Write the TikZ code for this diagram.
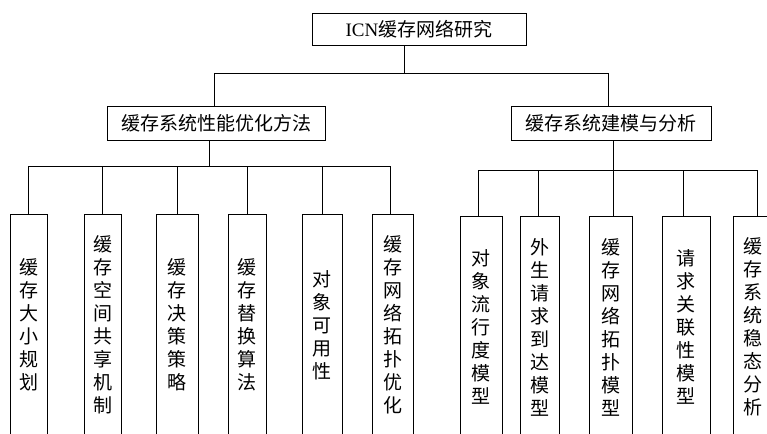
\documentclass[tikz,border=0pt]{standalone}
\usepackage{fontspec}
\setmainfont{Liberation Serif}
\newfontfamily\cjk{Noto Sans CJK SC}
\begin{document}
\begin{tikzpicture}[x=1pt,y=-1pt,line width=0.9pt,
  hbox/.style={draw,inner sep=0pt,minimum height=34pt,font=\cjk\fontsize{19}{23}\selectfont},
  vbox/.style={draw,inner sep=0pt,minimum height=222pt,align=center,font=\cjk\fontsize{19}{23}\selectfont}]
\clip (0,0) rectangle (767,433);
\fill[white] (0,0) rectangle (767,433);
% top level
\node[hbox,minimum width=214pt,minimum height=32pt] (root) at (419,29) {{\rmfamily ICN}缓存网络研究};
\node[hbox,minimum width=218pt] (a) at (216,123) {缓存系统性能优化方法};
\node[hbox,minimum width=200pt] (b) at (611,123) {缓存系统建模与分析};
% leaves, left group
\node[vbox,minimum width=37pt] (a1) at (28.5,325) {缓\\存\\大\\小\\规\\划};
\node[vbox,minimum width=37pt] (a2) at (102.5,325) {缓\\存\\空\\间\\共\\享\\机\\制};
\node[vbox,minimum width=42pt] (a3) at (177,325) {缓\\存\\决\\策\\策\\略};
\node[vbox,minimum width=38pt] (a4) at (247,325) {缓\\存\\替\\换\\算\\法};
\node[vbox,minimum width=40pt] (a5) at (322,325) {对\\象\\可\\用\\性};
\node[vbox,minimum width=41pt] (a6) at (392.5,325) {缓\\存\\网\\络\\拓\\扑\\优\\化};
% leaves, right group
\node[vbox,minimum width=42pt] (b1) at (481,327) {对\\象\\流\\行\\度\\模\\型};
\node[vbox,minimum width=39pt] (b2) at (539.5,327) {外\\生\\请\\求\\到\\达\\模\\型};
\node[vbox,minimum width=43pt] (b3) at (610.5,327) {缓\\存\\网\\络\\拓\\扑\\模\\型};
\node[vbox,minimum width=48pt] (b4) at (686,327) {请\\求\\关\\联\\性\\模\\型};
\node[vbox,minimum width=40pt] (b5) at (753,327) {缓\\存\\系\\统\\稳\\态\\分\\析};
% bus coordinates
\coordinate (busT) at (0,73);
\coordinate (busA) at (0,166);
\coordinate (busB) at (0,170);
% root to level 1
\draw ([xshift=-15pt]root.south) -- ([xshift=-15pt]root.south |- busT);
\draw ([xshift=-2pt]a.north |- busT) -- ([xshift=-3pt]b.north |- busT);
\draw ([xshift=-2pt]a.north |- busT) -- ([xshift=-2pt]a.north);
\draw ([xshift=-3pt]b.north |- busT) -- ([xshift=-3pt]b.north);
% left group
\draw ([xshift=-7pt]a.south) -- ([xshift=-7pt]a.south |- busA);
\draw (a1.north |- busA) -- ([xshift=-2.5pt]a6.north |- busA);
\foreach \n/\s in {a1/0,a2/0,a3/0,a4/0,a5/0,a6/-2.5}
  \draw ([xshift=\s pt]\n.north |- busA) -- ([xshift=\s pt]\n.north);
% right group
\draw ([xshift=2pt]b.south) -- ([xshift=2pt]b.south |- busB);
\draw ([xshift=-3pt]b1.north |- busB) -- ([xshift=4pt]b5.north |- busB);
\foreach \n/\s in {b1/-3,b2/-1.5,b3/2.5,b4/-3,b5/4}
  \draw ([xshift=\s pt]\n.north |- busB) -- ([xshift=\s pt]\n.north);
\end{tikzpicture}
\end{document}
